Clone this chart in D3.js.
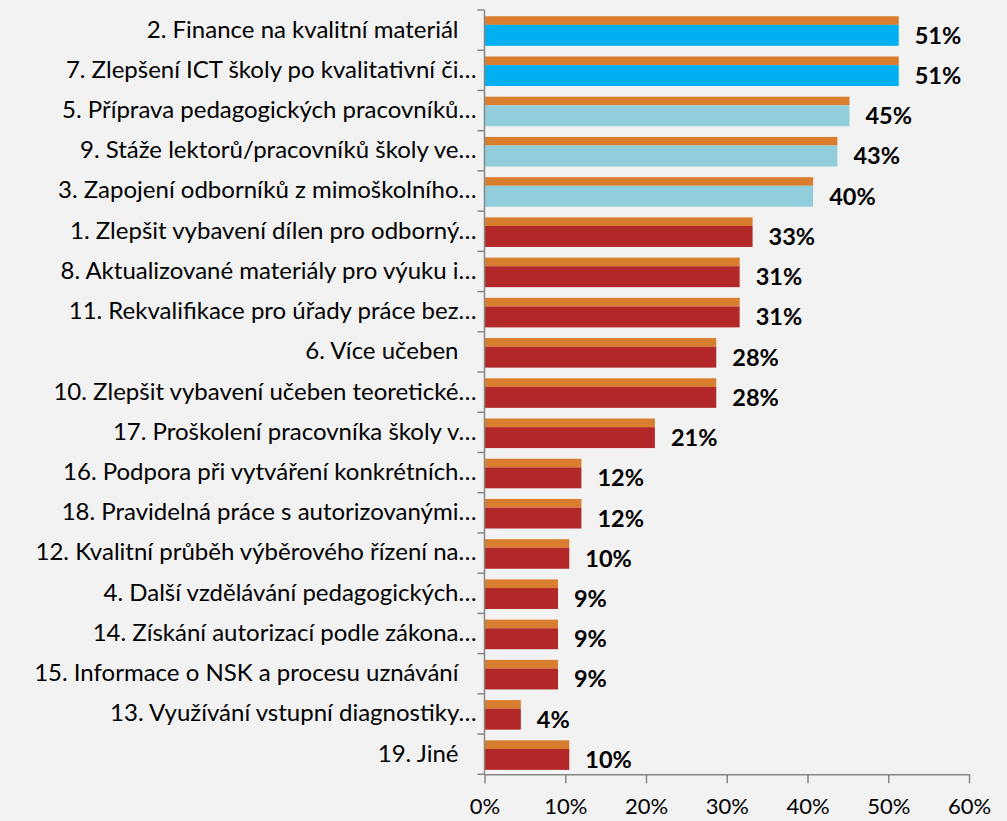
<!DOCTYPE html>
<html>
<head>
<meta charset="utf-8">
<script src="https://cdn.jsdelivr.net/npm/d3@7"></script>
<style>
  body { margin: 0; background: #f2f2f2; }
  svg { display: block; }
  .cat text { font-family: Lato, "Open Sans", sans-serif; font-size: 24px; fill: #000; white-space: pre; }
  .xaxis text { font-family: Lato, "Open Sans", sans-serif; font-size: 22px; fill: #000; }
  .val { font-family: Lato, "Open Sans", sans-serif; font-size: 23.5px; font-weight: bold; fill: #000; }
</style>
</head>
<body>
<svg width="1007" height="821"></svg>
<script>
'use strict';

// categories, top to bottom
var categories = [
  "2. Finance na kvalitní materiál",
  "7. Zlepšení ICT školy po kvalitativní či…",
  "5. Příprava pedagogických pracovníků…",
  "9. Stáže lektorů/pracovníků školy ve…",
  "3. Zapojení odborníků z mimoškolního…",
  "1. Zlepšit vybavení dílen pro odborný…",
  "8. Aktualizované materiály pro výuku i…",
  "11. Rekvalifikace pro úřady práce bez…",
  "6. Více učeben",
  "10. Zlepšit vybavení učeben teoretické…",
  "17. Proškolení pracovníka školy v…",
  "16. Podpora při vytváření konkrétních…",
  "18. Pravidelná práce s autorizovanými…",
  "12. Kvalitní průběh výběrového řízení na…",
  "4. Další vzdělávání pedagogických…",
  "14. Získání autorizací podle zákona…",
  "15. Informace o NSK a procesu uznávání",
  "13. Využívání vstupní diagnostiky…",
  "19. Jiné"
];

// share of answers (fraction)
var values = [0.513, 0.513, 0.452, 0.437, 0.407, 0.332, 0.316, 0.316, 0.287, 0.287,
              0.211, 0.120, 0.120, 0.105, 0.091, 0.091, 0.091, 0.045, 0.105];

// value labels as printed
var valueLabels = ["51%", "51%", "45%", "43%", "40%", "33%", "31%", "31%", "28%", "28%",
                   "21%", "12%", "12%", "10%", "9%", "9%", "9%", "4%", "10%"];

// colour group of the main bar
var groups = ["top", "top", "mid", "mid", "mid", "low", "low", "low", "low", "low",
              "low", "low", "low", "low", "low", "low", "low", "low", "low"];

var xTicks = [0, 0.1, 0.2, 0.3, 0.4, 0.5, 0.6];

var colors = {top: "#00b0f0", mid: "#92cddc", low: "#b22727"};
var stripColor = "#d97e2f";

var svg = d3.select("svg");
var margin = {top: 10, left: 484.5};
var plotW = 969 - margin.left;
var plotH = 774.3 - margin.top;

var x = d3.scaleLinear().domain([0, 0.6]).range([0, plotW]);
var y = d3.scaleBand().domain(d3.range(categories.length)).range([0, plotH]).padding(0);
var bw = y.bandwidth();

var g = svg.append("g").attr("transform", "translate(" + margin.left + "," + margin.top + ")");

// orange strip on top of each bar
g.selectAll(".strip")
  .data(values)
  .enter().append("rect")
    .attr("class", "strip")
    .attr("x", 0)
    .attr("y", function(d, i) { return y(i) + bw * 0.155; })
    .attr("width", function(d) { return x(d); })
    .attr("height", bw * 0.215)
    .attr("fill", stripColor);

// main bars
g.selectAll(".bar")
  .data(values)
  .enter().append("rect")
    .attr("class", "bar")
    .attr("x", 0)
    .attr("y", function(d, i) { return y(i) + bw * 0.37; })
    .attr("width", function(d) { return x(d); })
    .attr("height", bw * 0.52)
    .attr("fill", function(d, i) { return colors[groups[i]]; });

// value labels
g.selectAll(".val")
  .data(values)
  .enter().append("text")
    .attr("class", "val")
    .attr("x", function(d) { return x(d) + 16; })
    .attr("y", function(d, i) { return y(i) + bw * 0.63; })
    .attr("dy", "0.36em")
    .text(function(d, i) { return valueLabels[i]; });

// x axis
var xAxis = d3.axisBottom(x)
  .tickValues(xTicks)
  .tickFormat(d3.format(".0%"))
  .tickSizeInner(9)
  .tickSizeOuter(0)
  .tickPadding(15);

var xa = g.append("g")
  .attr("class", "xaxis")
  .attr("transform", "translate(0," + plotH + ")")
  .call(xAxis);
xa.select(".domain").attr("stroke", "#868686").attr("stroke-width", 1.5);
xa.selectAll(".tick line").attr("stroke", "#868686").attr("stroke-width", 1.5);

// y axis: line with ticks on band boundaries
var cat = g.append("g").attr("class", "cat");
cat.append("line")
  .attr("x1", 0).attr("x2", 0)
  .attr("y1", 0).attr("y2", plotH)
  .attr("stroke", "#868686").attr("stroke-width", 1.5);
cat.selectAll(".ytick")
  .data(d3.range(categories.length + 1))
  .enter().append("line")
    .attr("class", "ytick")
    .attr("x1", -7).attr("x2", 0)
    .attr("y1", function(i) { return i * bw; })
    .attr("y2", function(i) { return i * bw; })
    .attr("stroke", "#868686").attr("stroke-width", 1.5);
cat.selectAll(".lbl")
  .data(categories)
  .enter().append("text")
    .attr("class", "lbl")
    .attr("text-anchor", "end")
    .attr("x", function(d) { return d.slice(-1) === "…" ? -8 : -26; })
    .attr("y", function(d, i) { return y(i) + bw / 2 - 1; })
    .attr("dy", "0.35em")
    .text(function(d) { return d; });
</script>
</body>
</html>
